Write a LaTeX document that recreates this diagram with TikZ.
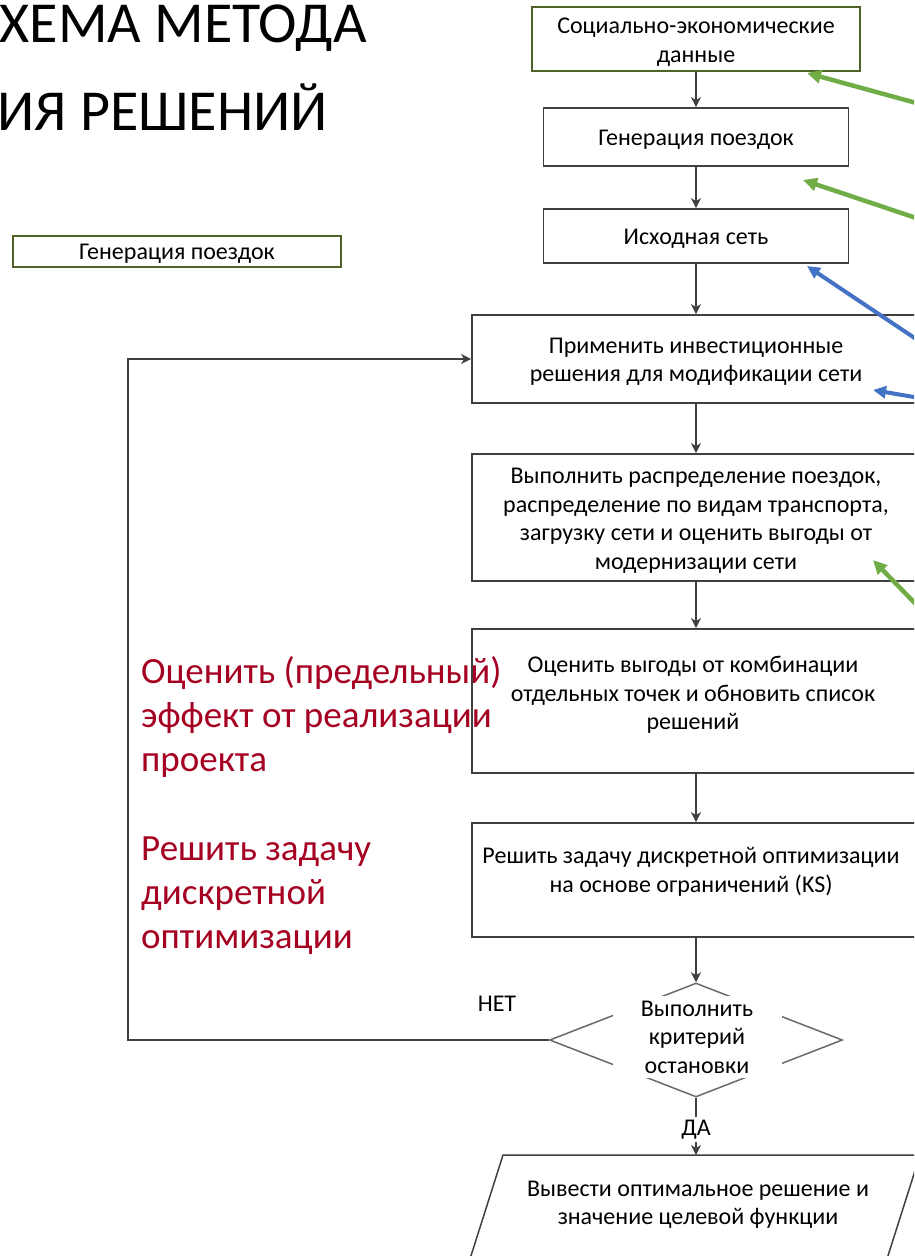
\documentclass[tikz,border=0pt]{standalone}
\usepackage{fontspec}
\setmainfont{Carlito}
\usetikzlibrary{arrows.meta,shapes.geometric}
\definecolor{olivebd}{HTML}{4F6228}
\definecolor{lgreen}{HTML}{70AD47}
\definecolor{mblue}{HTML}{4472C4}
\definecolor{dred}{HTML}{A50021}
\definecolor{lnc}{HTML}{404040}
\definecolor{dmc}{HTML}{6A6A6A}
\tikzset{
  box/.style={draw=lnc, line width=1.8pt, inner sep=0pt},
  gbox/.style={draw=olivebd, line width=2.6pt, inner sep=0pt},
  txt/.style={align=center, inner sep=0pt, font=\fontsize{24}{28.5}\selectfont},
  redtxt/.style={align=left, inner sep=0pt, anchor=west, text=dred, font=\fontsize{37}{44}\selectfont},
  titletxt/.style={inner sep=0pt, anchor=base east, font=\fontsize{58}{66}\selectfont},
  conn/.style={draw=lnc, line width=1.6pt, -{Stealth[length=10pt,width=10pt,inset=3pt]}},
  garrow/.style={draw=lgreen, line width=4.5pt, -{Triangle[length=14pt,width=13pt]}},
  barrow/.style={draw=mblue, line width=4pt, -{Triangle[length=13pt,width=12pt]}},
}
\begin{document}
\begin{tikzpicture}[x=1pt,y=-1pt]
\useasboundingbox (0,0) rectangle (914,1256);
\clip (0,0) rectangle (914,1256);
\fill[white] (0,0) rectangle (914,1256);

% title
\node[titletxt] (ti1) at (367,42) {ХЕМА МЕТОДА};
\node[titletxt] (ti2) at (328,130) {ИЯ РЕШЕНИЙ};

% small box
\node[gbox, minimum width=328pt, minimum height=31pt] (sb) at (177,251.5) {};
\node[txt] (tsb) at (177,254) {Генерация поездок};

% red texts
\node[redtxt] (r1) at (141,717) {Оценить (предельный)\\эффект от реализации\\проекта};
\node[redtxt] (r2) at (141,896) {Решить задачу\\дискретной\\оптимизации};

% main boxes
\node[gbox, minimum width=328pt, minimum height=64pt] (b1) at (696,39) {};
\node[txt] (t1) at (696,42) {Социально-экономические\\данные};
\node[box, minimum width=305pt, minimum height=58pt] (b2) at (696,137) {};
\node[txt] (t2) at (696,139.5) {Генерация поездок};
\node[box, minimum width=305pt, minimum height=54pt] (b3) at (696,236) {};
\node[txt] (t3) at (696,239) {Исходная сеть};
\node[box, minimum width=448pt, minimum height=88pt] (b4) at (696,359) {};
\node[txt] (t4) at (696,362) {Применить инвестиционные\\решения для модификации сети};
\node[box, minimum width=448pt, minimum height=127pt] (b5) at (696,517.5) {};
\node[txt] (t5) at (696,521) {Выполнить распределение поездок,\\распределение по видам транспорта,\\загрузку сети и оценить выгоды от\\модернизации сети};
\node[box, minimum width=448pt, minimum height=144pt] (b6) at (696,701) {};
\node[txt] (t6) at (693,695) {Оценить выгоды от комбинации\\отдельных точек и обновить список\\решений};
\node[box, minimum width=448pt, minimum height=114pt] (b7) at (696,880) {};
\node[txt] (t7) at (691,872) {Решить задачу дискретной оптимизации\\на основе ограничений (KS)};

% decision
\node[diamond, draw=dmc, line width=1.5pt, minimum width=293pt, minimum height=114pt, inner sep=0pt] (d) at (696,1040) {};
\node[txt, fill=white, minimum width=169pt, minimum height=82pt] (dt) at (697,1037) {Выполнить\\критерий\\остановки};
\node[txt] (no) at (497,1004) {НЕТ};

% output parallelogram
\coordinate (pa) at (696,1155);
\draw[draw=lnc, line width=1.5pt] (503,1155) -- (920,1155) -- (886,1262) -- (469,1262) -- cycle;
\node[txt] (tp) at (698,1205) {Вывести оптимальное решение и\\значение целевой функции};

% connectors
\draw[conn] (b1.south) -- (b2.north);
\draw[conn] (b2.south) -- (b3.north);
\draw[conn] (b3.south) -- (b4.north);
\draw[conn] (b4.south) -- (b5.north);
\draw[conn] (b5.south) -- (b6.north);
\draw[conn] (b6.south) -- (b7.north);
\draw[conn] (b7.south) -- (d.north);
\coordinate (lc) at (128,1040);
\draw[conn] (d.west) -- (lc) |- (b4.west);
\draw[conn] (d.south) -- node[txt, fill=white, inner sep=3pt, yshift=-3pt] (yes) {ДА} (pa);

% coloured arrows from the right
\coordinate (g1s) at (940,109.5); \coordinate (g1e) at (807,73);
\coordinate (g2s) at (940,226);   \coordinate (g2e) at (803,180);
\coordinate (bl1s) at (940,355);  \coordinate (bl1e) at (807,266);
\coordinate (bl2s) at (940,401.5);\coordinate (bl2e) at (873,390);
\coordinate (g3s) at (940,629);   \coordinate (g3e) at (873,560);
\draw[garrow] (g1s) -- (g1e);
\draw[garrow] (g2s) -- (g2e);
\draw[barrow] (bl1s) -- (bl1e);
\draw[barrow] (bl2s) -- (bl2e);
\draw[garrow] (g3s) -- (g3e);
\end{tikzpicture}
\end{document}
